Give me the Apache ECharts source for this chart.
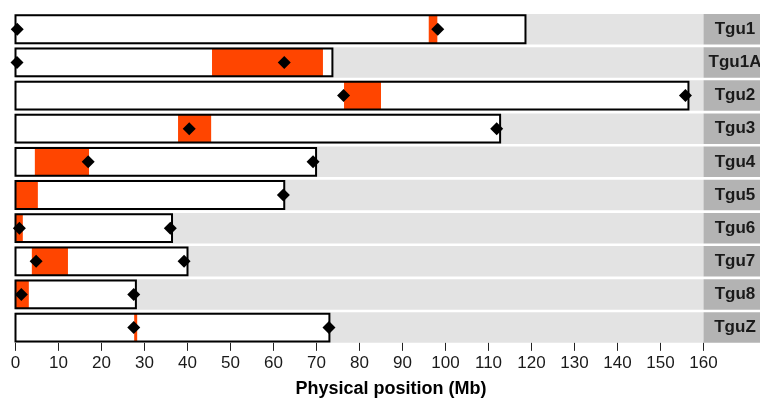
<!DOCTYPE html>
<html>
<head>
<meta charset="utf-8">
<script src="https://cdn.jsdelivr.net/npm/echarts@6/dist/echarts.min.js"></script>
<style>
  html, body { margin: 0; padding: 0; background: #fff; }
  #chart { width: 760px; height: 398px; }
</style>
</head>
<body>
<div id="chart"></div>
<script>
// chromosomes, top to bottom
const chroms = ['Tgu1', 'Tgu1A', 'Tgu2', 'Tgu3', 'Tgu4', 'Tgu5', 'Tgu6', 'Tgu7', 'Tgu8', 'TguZ']
// chromosome length (Mb)
const lengths = [118.6, 73.7, 156.5, 112.7, 69.9, 62.5, 36.4, 40.0, 28.0, 73.0]
// highlighted region (Mb)
const regionStart = [96.1, 45.7, 76.4, 37.8, 4.5, 0, 0, 3.8, 0, 27.6]
const regionEnd = [98.1, 71.5, 85.0, 45.5, 17.1, 5.2, 1.7, 12.2, 3.1, 28.3]
// marker positions (Mb)
const markers = [
  [0.4, 98.2],
  [0.35, 62.5],
  [76.3, 155.8],
  [40.4, 111.9],
  [16.9, 69.2],
  [62.3],
  [0.9, 36.0],
  [4.8, 39.2],
  [1.35, 27.5],
  [27.5, 72.9]
]
const xTicks = [0, 160, 10] // min, max, interval

const FONT = '"Liberation Sans", Arial, Helvetica, sans-serif'
const panelLeft = 15.5
const panelWidth = 688
const panelTop = 14
const pitch = 33.15
const panelH = 30.5

let myChart = echarts.init(document.getElementById('chart'))

let grids = []
let xAxes = []
let yAxes = []
let series = []
let graphics = []

chroms.forEach((name, i) => {
  const top = panelTop + pitch * i
  const last = i === chroms.length - 1
  grids.push({
    left: panelLeft,
    width: panelWidth,
    top: top,
    height: panelH,
    show: true,
    backgroundColor: '#E3E3E3',
    borderWidth: 0
  })
  xAxes.push({
    gridIndex: i,
    type: 'value',
    min: xTicks[0],
    max: xTicks[1],
    interval: xTicks[2],
    show: last,
    axisLine: { show: false },
    splitLine: { show: false },
    axisTick: { show: true, length: 8, lineStyle: { color: '#222', width: 1 } },
    axisLabel: { show: true, margin: 12, color: '#1A1A1A', fontSize: 17, fontFamily: FONT }
  })
  yAxes.push({
    gridIndex: i,
    type: 'value',
    min: 0,
    max: 1,
    show: false
  })
  series.push({
    type: 'custom',
    xAxisIndex: i,
    yAxisIndex: i,
    silent: true,
    z: 2,
    data: [[lengths[i], regionStart[i], regionEnd[i]]],
    renderItem: function (params, api) {
      const p0 = api.coord([0, 0.955])
      const p1 = api.coord([api.value(0), 0.045])
      const r0 = api.coord([api.value(1), 0.955])
      const r1 = api.coord([api.value(2), 0.045])
      return {
        type: 'group',
        children: [
          { type: 'rect', shape: { x: p0[0], y: p0[1], width: p1[0] - p0[0], height: p1[1] - p0[1] }, style: { fill: '#fff' } },
          { type: 'rect', shape: { x: r0[0], y: r0[1], width: r1[0] - r0[0], height: r1[1] - r0[1] }, style: { fill: '#FF4500' } },
          { type: 'rect', shape: { x: p0[0], y: p0[1], width: p1[0] - p0[0], height: p1[1] - p0[1] }, style: { fill: 'none', stroke: '#000', lineWidth: 2 } }
        ]
      }
    }
  })
  series.push({
    type: 'scatter',
    xAxisIndex: i,
    yAxisIndex: i,
    silent: true,
    z: 3,
    symbol: 'diamond',
    symbolSize: 13,
    itemStyle: { color: '#000', opacity: 1 },
    data: markers[i].map(m => [m, 0.5])
  })
  // facet strip
  graphics.push({
    type: 'rect',
    left: panelLeft + panelWidth,
    top: top,
    shape: { width: 70, height: panelH },
    style: { fill: '#B3B3B3' }
  })
  graphics.push({
    type: 'text',
    x: 735,
    y: top + panelH / 2,
    style: {
      text: name,
      align: 'center',
      verticalAlign: 'middle',
      fill: '#1A1A1A',
      font: 'bold 17px ' + FONT
    }
  })
})

graphics.push({
  type: 'text',
  x: 391,
  y: 389,
  style: {
    text: 'Physical position (Mb)',
    align: 'center',
    verticalAlign: 'middle',
    fill: '#000',
    font: 'bold 18px ' + FONT
  }
})

let option = {
  backgroundColor: '#FFFFFF',
  animation: false,
  grid: grids,
  xAxis: xAxes,
  yAxis: yAxes,
  series: series,
  graphic: graphics
}
myChart.setOption(option)
</script>
</body>
</html>
